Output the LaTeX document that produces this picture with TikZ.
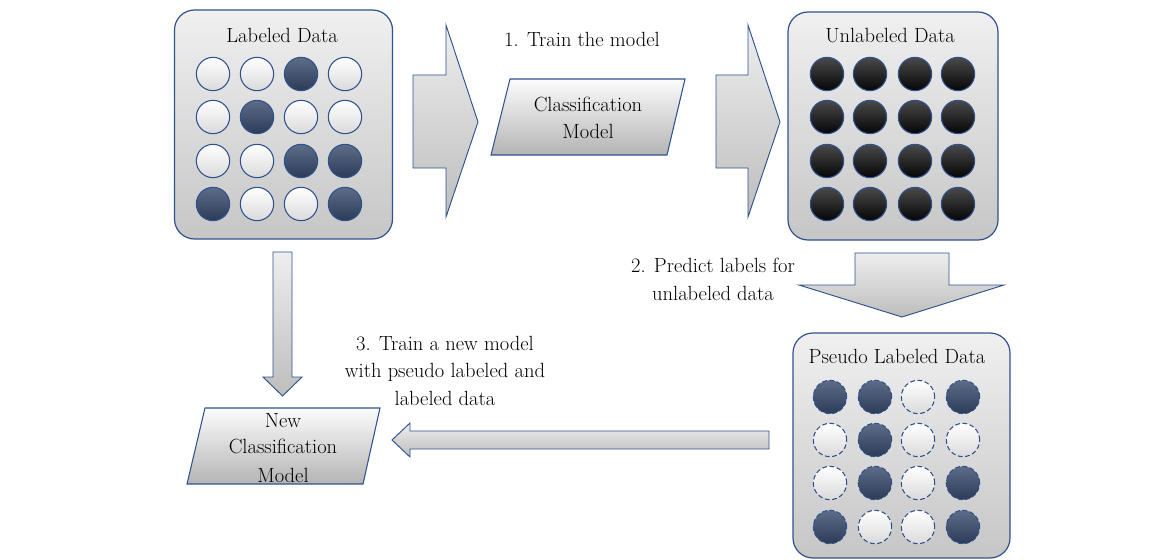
\documentclass[tikz,border=0pt]{standalone}
\usepackage{xcolor}
\definecolor{bdr}{HTML}{2F528F}
\definecolor{boxtop}{HTML}{F0F0F0}
\definecolor{boxbot}{HTML}{C6C6C6}
\definecolor{darktop}{HTML}{5D6D88}
\definecolor{darkbot}{HTML}{2C3B57}
\definecolor{whitebot}{HTML}{DADADA}
\definecolor{blacktop}{HTML}{4A4A4A}
\definecolor{blackbot}{HTML}{050505}
\definecolor{arrtop}{HTML}{EEEEEE}
\definecolor{arrbot}{HTML}{BDBDBD}
\definecolor{partop}{HTML}{FCFCFC}
\definecolor{parbot}{HTML}{B4B4B4}
\definecolor{txt}{HTML}{000000}
\begin{document}
\begin{tikzpicture}[x=0.75pt,y=-0.75pt,
  databox/.style={draw=bdr, line width=0.9pt, rounded corners=15pt, top color=boxtop, bottom color=boxbot, inner sep=0pt},
  dot/.style={circle, draw=bdr, line width=0.8pt, minimum size=25pt, inner sep=0pt},
  wl/.style={dot, top color=white, bottom color=whitebot},
  dl/.style={dot, top color=darktop, bottom color=darkbot},
  bk/.style={dot, top color=blacktop, bottom color=blackbot},
  wp/.style={wl, dash pattern=on 3.5pt off 2pt},
  dp/.style={dl, dash pattern=on 3.5pt off 2pt},
  blockarrow/.style={draw=bdr, line width=0.7pt, top color=arrtop, bottom color=arrbot},
  para/.style={draw=bdr, line width=0.8pt, top color=partop, bottom color=parbot},
  lbl/.style={text=txt, font=\fontsize{15.4}{20}\selectfont, inner sep=0pt, anchor=base}
]
\useasboundingbox (0,0) rectangle (1172,560);

% ---- Labeled Data box
\node[databox, minimum width=163.5pt, minimum height=171.75pt] (labbox) at (283.5,124.5) {};
\node[lbl] (labtitle) at (282,43) {Labeled Data};
\foreach \r/\y/\a/\b/\c/\d in {1/74/wl/wl/dl/wl, 2/117/wl/dl/wl/wl, 3/161/wl/wl/dl/dl, 4/204/dl/wl/wl/dl}{
  \foreach \k/\x/\s in {1/213/\a, 2/257/\b, 3/301/\c, 4/345/\d}{
    \node[\s] (lab-\r-\k) at (\x,\y) {};
  }
}

% ---- Unlabeled Data box
\node[databox, minimum width=157.5pt, minimum height=171pt] (unlbox) at (893,126) {};
\node[lbl] (unltitle) at (890,43) {Unlabeled Data};
\foreach \r/\y in {1/74, 2/117, 3/161, 4/204}{
  \foreach \k/\x in {1/827, 2/870, 3/915, 4/958}{
    \node[bk] (unl-\r-\k) at (\x,\y) {};
  }
}

% ---- Pseudo Labeled Data box
\node[databox, minimum width=162.75pt, minimum height=168.75pt] (psbox) at (901.5,445.5) {};
\node[lbl] (pstitle) at (897,363) {Pseudo Labeled Data};
\foreach \r/\y/\a/\b/\c/\d in {1/397/dp/dp/wp/dp, 2/440/wp/dp/wp/wp, 3/483/wp/dp/wp/dp, 4/527/dp/wp/wp/dp}{
  \foreach \k/\x/\s in {1/830/\a, 2/875/\b, 3/918/\c, 4/963/\d}{
    \node[\s] (ps-\r-\k) at (\x,\y) {};
  }
}

% ---- Block arrows
\path[blockarrow] (413,75) -- (446,75) -- (446,25) -- (478,122) -- (446,217) -- (446,168) -- (413,168) -- cycle;
\path[blockarrow] (716,75) -- (748,75) -- (748,25) -- (780,122) -- (748,217) -- (748,168) -- (716,168) -- cycle;
\path[blockarrow] (855,253) -- (949,253) -- (949,285) -- (1004,285) -- (902,317) -- (799,285) -- (855,285) -- cycle;
\path[blockarrow] (273,252) -- (292,252) -- (292,377) -- (302,377) -- (282.5,396) -- (263,377) -- (273,377) -- cycle;
\path[blockarrow] (769,431) -- (769,449) -- (410,449) -- (410,457) -- (392,440) -- (410,423) -- (410,431) -- cycle;

% ---- Classification Model parallelogram
\path[para] (510,79) -- (685,79) -- (667,155) -- (491,155) -- cycle;
\node[lbl] (cm1) at (588,112) {Classification};
\node[lbl] (cm2) at (588,138) {Model};

% ---- New Classification Model parallelogram
\path[para] (205,408) -- (380,408) -- (363,484) -- (187,484) -- cycle;
\node[lbl] (nm1) at (283,427) {New};
\node[lbl] (nm2) at (283,453) {Classification};
\node[lbl] (nm3) at (283,482) {Model};

% ---- Step labels
\node[lbl] (s1) at (582,47) {1. Train the model};
\node[lbl] (s2a) at (713,272) {2. Predict labels for};
\node[lbl] (s2b) at (713,300) {unlabeled data};
\node[lbl] (s3a) at (445,350) {3. Train a new model};
\node[lbl] (s3b) at (445,377) {with pseudo labeled and};
\node[lbl] (s3c) at (445,405) {labeled data};
\end{tikzpicture}
\end{document}
